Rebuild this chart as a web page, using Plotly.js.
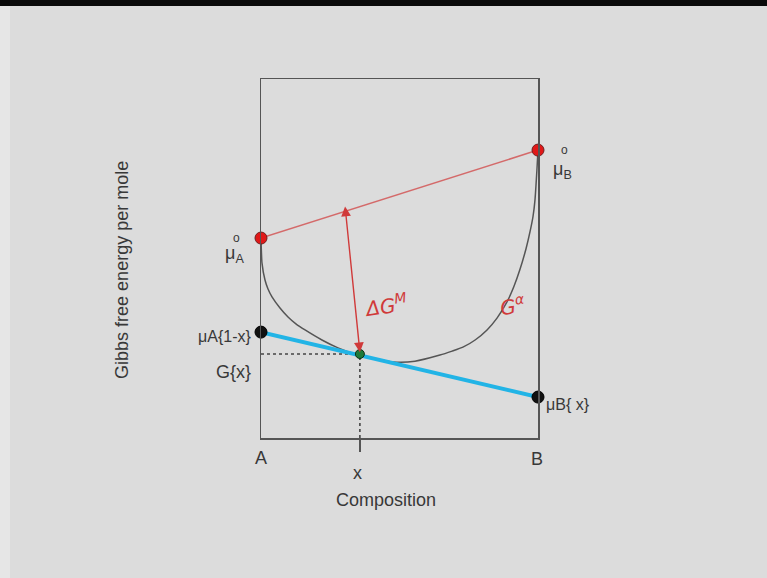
<!DOCTYPE html>
<html>
<head>
<meta charset="utf-8">
<script src="https://cdn.plot.ly/plotly-3.0.1.min.js"></script>
<style>
  html, body { margin:0; padding:0; background:#dcdcdc; width:767px; height:578px; overflow:hidden; }
  #chart { position:absolute; left:0; top:0; width:767px; height:578px; }
  #topbar { position:absolute; left:0; top:0; width:767px; height:6px; background:#0a0a0a; z-index:5; }
  #leftstrip { position:absolute; left:0; top:6px; width:10px; height:572px; background:#e6e6e6; z-index:4; }
</style>
</head>
<body>
<div id="chart"></div>
<div id="topbar"></div>
<div id="leftstrip"></div>
<script>
// ---- data (composition 0..1, free energy in arbitrary units 0..10) ----
const composition = [0, 0.0036, 0.0144, 0.0253, 0.0397, 0.0686, 0.0975, 0.126, 0.159, 0.220, 0.278, 0.339, 0.401, 0.477, 0.556, 0.646, 0.690, 0.729, 0.773, 0.816, 0.852, 0.888, 0.913, 0.935, 0.957, 0.971, 0.982, 0.989, 0.996, 1.0];
const gAlpha      = [5.57, 4.87, 4.40, 4.15, 3.93, 3.62, 3.37, 3.18, 3.01, 2.73, 2.51, 2.34, 2.23, 2.12, 2.14, 2.31, 2.42, 2.53, 2.73, 3.01, 3.34, 3.79, 4.22, 4.70, 5.28, 5.74, 6.17, 6.62, 7.45, 8.02];
const endpoints = [0, 1];
const muPure  = [5.57, 8.02];   // mu_A°, mu_B°
const muMix   = [2.95, 1.14];   // mu_A(1-x), mu_B(x)
const xComp = 0.357;
const Gx = 2.34;
const arrowTop = [0.303, 6.49];

const ff = '"Liberation Sans", Arial, sans-serif';
const txtFont = {family:ff, size:18, color:'#383838'};
const redHand = {family:'"DejaVu Sans", sans-serif', size:20, color:'#d03a3a'};

const traces = [
  {x: composition, y: gAlpha, mode:'lines', line:{color:'#555555', width:1.5, shape:'spline', smoothing:0.6}, hoverinfo:'skip'},
  {x: endpoints, y: muPure, mode:'lines', line:{color:'#d46a6a', width:1.5}, hoverinfo:'skip'},
  {x: [0, xComp], y: [Gx, Gx], mode:'lines', line:{color:'#444', width:1.6, dash:'dot'}, hoverinfo:'skip'},
  {x: [xComp, xComp], y: [0, Gx], mode:'lines', line:{color:'#444', width:1.6, dash:'dot'}, hoverinfo:'skip'},
  {x: endpoints, y: muMix, mode:'lines', line:{color:'#22b4e6', width:4}, hoverinfo:'skip'},
  {x: endpoints, y: muPure, mode:'markers', cliponaxis:false, marker:{color:'#e01818', size:12, line:{color:'#702020', width:1}}, hoverinfo:'skip'},
  {x: endpoints, y: muMix, mode:'markers', cliponaxis:false, marker:{color:'#111111', size:12, line:{color:'#000', width:1}}, hoverinfo:'skip'},
  {x: [xComp], y: [Gx], mode:'markers', cliponaxis:false, marker:{color:'#1f7a3a', size:9, line:{color:'#0d3018', width:1}}, hoverinfo:'skip'}
];

const ann = [];
function t(text, x, y, font, extra) {
  ann.push(Object.assign({text:text, x:x, y:y, xref:'paper', yref:'paper', showarrow:false, font:font||txtFont, xanchor:'center', yanchor:'middle'}, extra||{}));
}
const small = {family:ff, size:12, color:'#383838'};
const mid = {family:ff, size:16, color:'#383838'};
// axis words
t('A', 0, -0.056);
t('B', 0.996, -0.059);
t('x', 0.350, -0.097);
t('Composition', 0.451, -0.173);
t('Gibbs free energy per mole', -0.502, 0.468, null, {textangle:-90});
// mu labels
t('o', -0.087, 0.557, small);
t('μ<sub>A</sub>', -0.097, 0.512);
t('o', 1.097, 0.802, small);
t('μ<sub>B</sub>', 1.087, 0.746);
t('μA{1-x}', -0.03, 0.284, mid, {xanchor:'right'});
t('G{x}', -0.101, 0.184);
t('μB{ x}', 1.022, 0.092, mid, {xanchor:'left'});
// hand-written
t('<i>ΔG<sup>M</sup></i>', 0.45, 0.37, redHand, {textangle:-8});
t('<i>G<sup>α</sup></i>', 0.91, 0.37, redHand, {textangle:-8});
// double arrow
ann.push({x: xComp, y: Gx+0.05, ax: arrowTop[0], ay: arrowTop[1], xref:'x', yref:'y', axref:'x', ayref:'y',
  showarrow:true, arrowside:'end+start', arrowhead:2, startarrowhead:2, arrowwidth:1.4, arrowsize:1.4, startarrowsize:1.4,
  arrowcolor:'#d03a3a', text:''});

const layout = {
  width:767, height:578,
  margin:{l:261, r:229, t:79, b:140, pad:0},
  paper_bgcolor:'rgba(0,0,0,0)', plot_bgcolor:'#dcdcdc',
  showlegend:false,
  xaxis:{range:[0,1], showgrid:false, zeroline:false, showline:true, mirror:true, linecolor:'#555', linewidth:1.5,
         tickvals:[xComp], ticks:'outside', ticklen:12, tickwidth:1.5, tickcolor:'#555', showticklabels:false, fixedrange:true},
  yaxis:{range:[0,10], showgrid:false, zeroline:false, showline:true, mirror:true, linecolor:'#555', linewidth:1.5,
         showticklabels:false, ticks:'', fixedrange:true},
  annotations: ann
};
Plotly.newPlot('chart', traces, layout, {staticPlot:true});
</script>
</body>
</html>
